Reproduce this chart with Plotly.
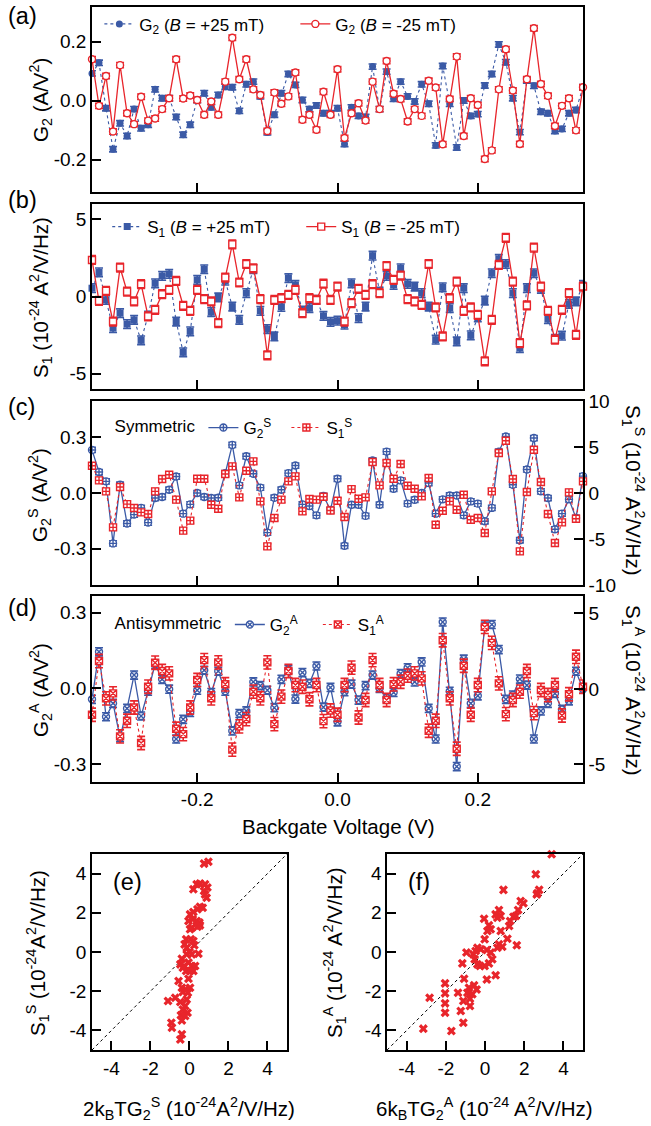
import plotly.graph_objects as go

# ---------------- data ----------------
Vbg = [-0.35, -0.34, -0.33, -0.32, -0.31, -0.30, -0.29, -0.28, -0.27, -0.26,
       -0.25, -0.24, -0.23, -0.22, -0.21, -0.20, -0.19, -0.18, -0.17, -0.16,
       -0.15, -0.14, -0.13, -0.12, -0.11, -0.10, -0.09, -0.08, -0.07, -0.06,
       -0.05, -0.04, -0.03, -0.02, -0.01, 0.00, 0.01, 0.02, 0.03, 0.04,
       0.05, 0.06, 0.07, 0.08, 0.09, 0.10, 0.11, 0.12, 0.13, 0.14,
       0.15, 0.16, 0.17, 0.18, 0.19, 0.20, 0.21, 0.22, 0.23, 0.24,
       0.25, 0.26, 0.27, 0.28, 0.29, 0.30, 0.31, 0.32, 0.33, 0.34,
       0.35]

G2_pos = [0.092, 0.128, -0.026, -0.165, -0.077, -0.12, -0.029, -0.094, -0.082, 0.038,
          0.008, 0.008, -0.056, -0.116, -0.082, 0.002, 0.025, -0.023, 0.019, 0.047,
          0.045, -0.035, 0.055, 0.064, 0.014, -0.108, -0.048, 0.025, 0.09, 0.053,
          0.002, -0.029, -0.017, -0.043, -0.043, -0.026, -0.147, -0.023, -0.052, -0.056,
          0.115, -0.029, 0.098, 0.006, 0.064, 0.014, -0.003, 0.055, -0.011, -0.152,
          0.117, -0.011, -0.159, 0.0, -0.052, -0.046, 0.051, 0.09, 0.19, 0.13,
          0.008, -0.107, 0.068, 0.05, -0.038, -0.043, -0.103, -0.096, -0.043, -0.032,
          0.045]
G2_neg = [0.14, -0.018, 0.083, -0.105, 0.12, -0.043, -0.08, 0.013, -0.068, -0.061,
          -0.029, 0.008, 0.14, 0.007, 0.017, 0.002, -0.048, -0.003, -0.048, 0.064,
          0.213, 0.072, 0.14, 0.038, 0.019, -0.103, 0.027, -0.011, 0.014, 0.095,
          -0.065, -0.048, -0.099, 0.03, -0.048, 0.106, -0.127, -0.043, -0.009, -0.068,
          0.064, -0.029, 0.134, 0.023, 0.005, -0.071, -0.029, -0.052, 0.067, 0.044,
          -0.148, 0.005, 0.149, -0.12, 0.008, -0.015, -0.198, -0.169, 0.038, 0.174,
          0.034, -0.147, 0.072, 0.245, 0.056, 0.016, -0.086, -0.018, 0.008, -0.101,
          0.045]

S1_pos = [0.54, 1.57, -0.22, -2.05, -1.08, -1.79, -1.51, -2.84, -1.23, 0.86,
          1.34, 1.47, -1.62, -3.62, -2.26, 1.08, 1.77, -1.01, -0.06, 1.03,
          -0.65, -1.51, 0.22, 1.77, -0.93, -2.11, -2.59, -0.67, 1.19, 0.75,
          -0.91, -0.75, -0.22, -1.26, -1.65, -1.57, -1.83, 0.86, -1.40, -0.65,
          2.65, 0.32, 1.34, 0.75, 1.83, 0.82, 0.65, 0.22, -0.65, -2.80,
          0.60, -0.75, -2.91, 0.54, -2.52, -1.36, -0.26, 1.51, 2.44, 2.11,
          0.22, -3.34, 0.54, 1.51, 0.50, -1.47, -2.74, -2.54, -0.47, -0.32,
          0.75]
S1_neg = [2.37, -0.28, 0.37, -1.62, 1.88, 0.32, -0.32, 0.80, -1.29, -0.86,
          0.15, 0.43, 1.01, -0.60, -0.93, 0.43, -0.17, -0.32, -1.72, 1.23,
          3.38, 0.91, 2.11, 1.83, -0.17, -3.81, -0.22, -0.11, 0.11, 0.43,
          -1.08, -0.11, -0.22, 0.83, -0.22, 0.65, -1.62, -0.43, 0.50, 0.11,
          0.80, 0.22, 1.98, 1.08, 1.36, -0.17, -0.32, -0.54, 2.11, -0.71,
          -2.59, -0.11, 0.97, -0.93, -0.71, -1.19, -4.20, -1.51, 2.05, 3.81,
          0.97, -3.02, -0.58, 3.17, 0.65, -0.93, -2.80, -0.86, 0.22, -2.48,
          0.65]

G2_sym = [0.232, 0.113, 0.063, -0.271, 0.045, -0.164, -0.116, -0.080, -0.159, -0.027,
          -0.021, 0.018, 0.089, -0.111, -0.061, 0.0, -0.021, -0.027, -0.025, 0.107,
          0.259, 0.041, 0.198, 0.104, 0.029, -0.213, -0.025, 0.018, 0.107, 0.148,
          -0.061, -0.070, -0.120, -0.015, -0.091, 0.077, -0.284, -0.063, -0.063, -0.123,
          0.175, -0.063, 0.223, 0.023, 0.068, -0.057, -0.036, 0.0, 0.054, -0.111,
          -0.034, -0.013, -0.013, -0.120, -0.045, -0.057, -0.152, -0.080, 0.223, 0.304,
          0.045, -0.254, 0.127, 0.296, 0.009, -0.027, -0.195, -0.111, -0.034, -0.134,
          0.091]
S1_sym = [2.97, 1.38, 0.18, -3.73, 0.65, -1.20, -1.63, -2.10, -2.28, 0.18,
          1.52, 1.99, -0.72, -4.09, -3.00, 1.56, 1.56, -1.27, -1.70, 2.07,
          2.90, -0.47, 2.43, 3.44, -0.91, -5.80, -2.72, -0.72, 1.27, 1.81,
          -1.99, -0.65, -0.72, -0.40, -1.90, -0.83, -2.61, 0.43, -0.62, -0.47,
          3.37, 0.83, 3.26, 1.56, 3.15, 0.80, 0.47, -0.36, 1.63, -3.44,
          -1.92, -0.91, -1.81, -0.18, -2.90, -2.72, -4.35, 0.18, 4.35, 5.69,
          1.52, -6.34, 0.11, 4.71, 1.20, -2.28, -5.43, -3.19, 0.07, -2.79,
          1.27]

G2_anti = [-0.043, 0.145, -0.112, -0.059, -0.195, -0.079, 0.053, -0.109, -0.011, 0.096,
           0.036, -0.003, -0.200, -0.122, -0.095, -0.007, 0.072, -0.016, 0.068, -0.011,
           -0.168, -0.099, -0.089, 0.026, 0.011, -0.007, -0.076, 0.036, 0.075, -0.042,
           0.063, 0.020, 0.089, -0.074, 0.004, -0.132, -0.013, 0.017, -0.046, 0.011,
           0.053, 0.0, -0.037, -0.016, 0.059, 0.082, 0.026, 0.105, -0.079, -0.200,
           0.263, -0.011, -0.309, 0.116, -0.059, -0.029, 0.247, 0.253, 0.154, -0.043,
           -0.026, 0.037, 0.013, -0.200, -0.089, -0.059, -0.020, -0.083, -0.049, 0.068,
           -0.003]
S1_anti = [-1.71, 1.85, -0.62, -0.29, -3.14, -2.11, -1.23, -3.58, 0.15, 1.74,
           1.19, 1.03, -2.64, -2.99, -1.23, 0.59, 1.91, -0.62, 1.76, 0.31,
           -4.02, -2.48, -2.00, -0.18, -0.62, 1.76, -2.33, -0.51, 1.19, 0.26,
           0.15, -0.68, 0.26, -2.13, -1.43, -1.71, 0.26, 1.41, -1.89, -0.73,
           1.91, 0.26, -0.73, 0.31, 0.48, 0.88, 1.03, 0.70, -2.77, -2.11,
           3.23, -0.62, -3.96, 1.54, -1.71, 0.26, 4.11, 3.05, 0.37, -1.67,
           -0.73, -0.18, 1.19, -1.60, -0.07, -0.40, 0.26, -1.76, -0.35, 2.13,
           0.15]

# error bar half-widths per series
err_G2, err_S1 = 0.009, 0.28
err_Gsym, err_Ssym = 0.014, 0.3
err_Ganti, err_Santi = 0.016, 0.44

# scatter (e): x = 2kBT G2^S, y = S1^S
E_x = [0.97, 0.75, 0.20, 0.37, 0.54, 0.80, 0.92, 0.75, 0.88, 0.80, 0.54, 0.68, 0.41, 0.20,
       0.03, 0.17, 0.37, 0.51, -0.05, 0.12, 0.41, 0.54, 0.03, -0.17, -0.25, -0.14, 0.07,
       0.20, 0.25, 0.0, 0.12, 0.46, -0.14, -0.39, -0.47, -0.27, -0.05, 0.12, 0.29, -0.17,
       0.03, 0.20, -0.34, -0.05, -0.56, -0.39, -0.22, 0.03, -0.34, -0.08, -0.14, -0.73,
       -1.10, -0.47, -0.22, -0.34, -0.10, -0.44, -0.22, -0.39, -0.93, -0.90, -0.39, -0.47]
E_y = [4.61, 4.51, 3.20, 3.46, 3.49, 3.46, 3.29, 3.11, 2.77, 2.94, 2.31, 2.26, 2.18, 2.04,
       1.92, 1.67, 1.58, 1.50, 1.58, 1.24, 1.29, 1.36, 1.16, 0.65, 0.39, 0.22, 0.65,
       0.56, 0.34, 0.0, -0.12, -0.09, -0.12, -0.34, -0.63, -0.71, -0.54, -0.71, -0.71, -0.97,
       -0.97, -0.97, -0.80, -1.36, -1.48, -1.82, -1.91, -1.82, -2.04, -2.08, -2.42, -2.33,
       -2.50, -2.55, -2.76, -2.93, -3.10, -3.23, -3.27, -3.49, -3.61, -3.86, -4.20, -4.46]

# scatter (f): x = 6kBT G2^A, y = S1^A
F_x = [3.40, 2.59, 2.67, 2.76, 2.64, 0.94, 1.82, 1.96, 1.69, 0.71,
       0.54, 0.80, 0.63, 1.45, 1.57, 1.28, 1.23, -0.05, 0.20, 0.29,
       0.12, -0.02, 0.80, 1.14, 0.71, 0.88, 0.63, 1.62, -0.39, -0.22,
       0.09, 0.29, 0.37, 0.20, -0.02, -0.26, -0.53, -0.60, -0.95, -0.48,
       -1.16, -0.39, 0.09, 0.54, -1.07, -0.56, -0.82, -0.43, -0.90, -0.65,
       -0.77, -1.11, -0.77, -1.38, -2.04, -2.04, -2.04, -2.04, -1.24, -2.83,
       -1.11, -1.72, -3.15]
F_y = [4.99, 3.97, 3.00, 3.17, 2.94, 3.17, 2.60, 2.49, 2.14, 2.14,
       1.92, 1.84, 1.75, 1.80, 1.84, 1.58, 1.33, 1.70, 1.36, 1.16,
       1.07, 0.65, 1.07, 0.68, 0.39, 0.27, 0.22, 0.34, 0.22, 0.14,
       0.10, -0.03, -0.37, -0.58, -0.71, -0.71, -0.37, -0.12, -0.03, 0.05,
       -0.58, -0.63, -1.40, -1.19, -1.36, -1.70, -1.82, -1.91, -2.08, -2.16,
       -2.38, -2.50, -2.76, -2.08, -1.60, -2.11, -2.62, -3.10, -3.01, -2.33,
       -3.61, -4.03, -3.91]

diag = [-5, 5]

# tick labels
v_ticks = [-0.2, 0.0, 0.2]
v_text = ["-0.2", "0.0", "0.2"]
g2_ticks = [-0.2, 0.0, 0.2]
g2_text = ["-0.2", "0.0", "0.2"]
s1_ticks = [-5, 0, 5]
s1_text = ["-5", "0", "5"]
g3_ticks = [-0.3, 0.0, 0.3]
g3_text = ["-0.3", "0.0", "0.3"]
s10_ticks = [-10, -5, 0, 5, 10]
s10_text = ["-10", "-5", "0", "5", "10"]
sc_ticks = [-4, -2, 0, 2, 4]
sc_text = ["-4", "-2", "0", "2", "4"]

# ---------------- styling ----------------
BLUE = "#3b5aa6"
RED = "#e8252b"
FONT = "Liberation Sans, Arial, Helvetica, sans-serif"
TICK = 19
TITLE = 20.5
LEG = 17

fig = go.Figure()


def series(x, y, err, color, symbol, filled, dash, width, name, xa, ya, legend):
    fig.add_trace(go.Scatter(
        x=x, y=y, mode="lines+markers", name=name, xaxis=xa, yaxis=ya, legend=legend,
        line=dict(color=color, width=width, dash=dash),
        marker=dict(symbol=symbol, size=7, color=color if filled else "white",
                    line=dict(color=color, width=0 if filled else 1.4)),
        error_y=dict(type="constant", value=err, color=color, thickness=1.6, width=4),
        cliponaxis=False,
    ))


# (a)
series(Vbg, G2_pos, err_G2, BLUE, "circle", True, "dot", 1.1,
       "G<sub>2</sub> (<i>B</i> = +25 mT)", "x", "y", "legend")
series(Vbg, G2_neg, err_G2, RED, "circle", False, "solid", 1.3,
       "G<sub>2</sub> (<i>B</i> = -25 mT)", "x", "y", "legend")
# (b)
series(Vbg, S1_pos, err_S1, BLUE, "square", True, "dot", 1.1,
       "S<sub>1</sub> (<i>B</i> = +25 mT)", "x2", "y2", "legend2")
series(Vbg, S1_neg, err_S1, RED, "square", False, "solid", 1.3,
       "S<sub>1</sub> (<i>B</i> = -25 mT)", "x2", "y2", "legend2")
# (c)
series(Vbg, G2_sym, err_Gsym, BLUE, "circle-cross", False, "solid", 1.3,
       "G<sub>2</sub><sup>S</sup>", "x3", "y3", "legend3")
series(Vbg, S1_sym, err_Ssym, RED, "square-cross", False, "dot", 1.1,
       "S<sub>1</sub><sup>S</sup>", "x3", "y5", "legend3")
# (d)
series(Vbg, G2_anti, err_Ganti, BLUE, "circle-x", False, "solid", 1.3,
       "G<sub>2</sub><sup>A</sup>", "x4", "y4", "legend4")
series(Vbg, S1_anti, err_Santi, RED, "square-x", False, "dot", 1.1,
       "S<sub>1</sub><sup>A</sup>", "x4", "y6", "legend4")

# (e), (f)
for xs, ys, xa, ya in [(E_x, E_y, "x5", "y7"), (F_x, F_y, "x6", "y8")]:
    fig.add_trace(go.Scatter(x=diag, y=diag, mode="lines", xaxis=xa, yaxis=ya,
                             line=dict(color="black", width=1, dash="dot"),
                             showlegend=False, hoverinfo="skip"))
    fig.add_trace(go.Scatter(x=xs, y=ys, mode="markers", xaxis=xa, yaxis=ya,
                             marker=dict(symbol="x", size=8, color=RED,
                                         line=dict(width=0)),
                             showlegend=False, cliponaxis=False))

axis_common = dict(showline=True, linecolor="black", linewidth=1.5, mirror=True,
                   ticks="inside", ticklen=9, tickwidth=1.5, tickcolor="black",
                   showgrid=False, zeroline=False,
                   tickfont=dict(family=FONT, size=TICK, color="black"))


def xax(domain, anchor, labels):
    d = dict(axis_common, domain=domain, anchor=anchor, range=[-0.35, 0.35],
             tickmode="array", tickvals=v_ticks, ticktext=v_text,
             showticklabels=labels)
    return d


def yax(domain, anchor, rng, tv, tt, **kw):
    d = dict(axis_common, domain=domain, anchor=anchor, range=rng,
             tickmode="array", tickvals=tv, ticktext=tt)
    d.update(kw)
    return d


dA = [0.8226, 1.0]
dB = [0.6337, 0.8111]
dC = [0.4458, 0.6222]
dD = [0.2570, 0.4353]
dE = [0.0, 0.1879]

legend_common = dict(orientation="h", bgcolor="rgba(0,0,0,0)", borderwidth=0,
                     font=dict(family=FONT, size=LEG, color="black"),
                     itemwidth=30, xanchor="left", yanchor="top",
                     tracegroupgap=0, itemclick=False)

fig.update_layout(
    width=651, height=1126,
    margin=dict(l=92, r=68, t=7, b=76, autoexpand=False),
    paper_bgcolor="white", plot_bgcolor="white",
    font=dict(family=FONT, size=18, color="black"),
    xaxis=xax([0, 1], "y", False),
    xaxis2=xax([0, 1], "y2", False),
    xaxis3=xax([0, 1], "y3", False),
    xaxis4=xax([0, 1], "y4", True),
    xaxis5=dict(axis_common, domain=[0, 0.397], anchor="y7", range=[-5, 5],
                tickmode="array", tickvals=sc_ticks, ticktext=sc_text),
    xaxis6=dict(axis_common, domain=[0.601, 1.0], anchor="y8", range=[-5, 5],
                tickmode="array", tickvals=sc_ticks, ticktext=sc_text),
    yaxis=yax(dA, "x", [-0.31, 0.317], g2_ticks, g2_text),
    yaxis2=yax(dB, "x2", [-6, 6], s1_ticks, s1_text),
    yaxis3=yax(dC, "x3", [-0.495, 0.495], g3_ticks, g3_text),
    yaxis4=yax(dD, "x4", [-0.37, 0.366], g3_ticks, g3_text),
    yaxis5=yax(dC, "x3", [-10, 10], s10_ticks, s10_text, overlaying="y3",
               side="right", mirror=False),
    yaxis6=yax(dD, "x4", [-6.16, 6.16], s1_ticks, s1_text, overlaying="y4",
               side="right", mirror=False),
    yaxis7=yax(dE, "x5", [-5, 5], sc_ticks, sc_text),
    yaxis8=yax(dE, "x6", [-5, 5], sc_ticks, sc_text),
    legend=dict(legend_common, x=0.015, y=1.0006, entrywidth=151),
    legend2=dict(legend_common, x=0.031, y=0.8063, entrywidth=149),
    legend3=dict(legend_common, x=0.042, y=0.6136, entrywidth=38,
                 title=dict(text="Symmetric", side="left",
                            font=dict(family=FONT, size=LEG, color="black"))),
    legend4=dict(legend_common, x=0.042, y=0.4248, entrywidth=43,
                 title=dict(text="Antisymmetric", side="left",
                            font=dict(family=FONT, size=LEG, color="black"))),
)


def px_x(px):
    return (px - 92) / 491


def px_y(py):
    return (1050 - py) / 1043


ann = []


def note(text, x, y, size=TITLE, angle=0, xanchor="center", yanchor="middle"):
    ann.append(dict(text=text, x=px_x(x), y=px_y(y), xref="paper", yref="paper",
                    showarrow=False, textangle=angle, xanchor=xanchor,
                    yanchor=yanchor, font=dict(family=FONT, size=size, color="black")))


# left y titles
note("G<sub>2</sub> (A/V<sup>2</sup>)", 40, 100, angle=-90)
note("S<sub>1</sub> (10<sup>-24</sup> A<sup>2</sup>/V/Hz)", 40, 298, angle=-90)
note("G<sub>2</sub><sup>S</sup> (A/V<sup>2</sup>)", 40, 495, angle=-90)
note("G<sub>2</sub><sup>A</sup> (A/V<sup>2</sup>)", 40, 690, angle=-90)
# right y titles
note("S<sub>1</sub><sup>S</sup> (10<sup>-24</sup> A<sup>2</sup>/V/Hz)", 634, 490, angle=90)
note("S<sub>1</sub><sup>A</sup> (10<sup>-24</sup> A<sup>2</sup>/V/Hz)", 634, 690, angle=90)
# x title of (d)
note("Backgate Voltage (V)", 338, 826)
# scatter titles
note("S<sub>1</sub><sup>S</sup> (10<sup>-24</sup>A<sup>2</sup>/V/Hz)", 37, 953, angle=-90)
note("S<sub>1</sub><sup>A</sup> (10<sup>-24</sup> A<sup>2</sup>/V/Hz)", 334, 953, angle=-90)
note("2k<sub>B</sub>TG<sub>2</sub><sup>S</sup> (10<sup>-24</sup>A<sup>2</sup>/V/Hz)", 189, 1108)
note("6k<sub>B</sub>TG<sub>2</sub><sup>A</sup> (10<sup>-24</sup> A<sup>2</sup>/V/Hz)", 484, 1108)
# panel labels
for lab, yy in [("(a)", 16), ("(b)", 200), ("(c)", 407), ("(d)", 608)]:
    note(lab, 6, yy, size=23.5, xanchor="left")
note("(e)", 111, 882, size=23.5, xanchor="left")
note("(f)", 406, 882, size=23.5, xanchor="left")

fig.update_layout(annotations=ann)

fig.write_html(
    "out.html",
    config={"displayModeBar": False},
    post_script="document.body.style.margin='0';document.body.style.padding='0';"
                "document.body.style.overflow='hidden';",
)
